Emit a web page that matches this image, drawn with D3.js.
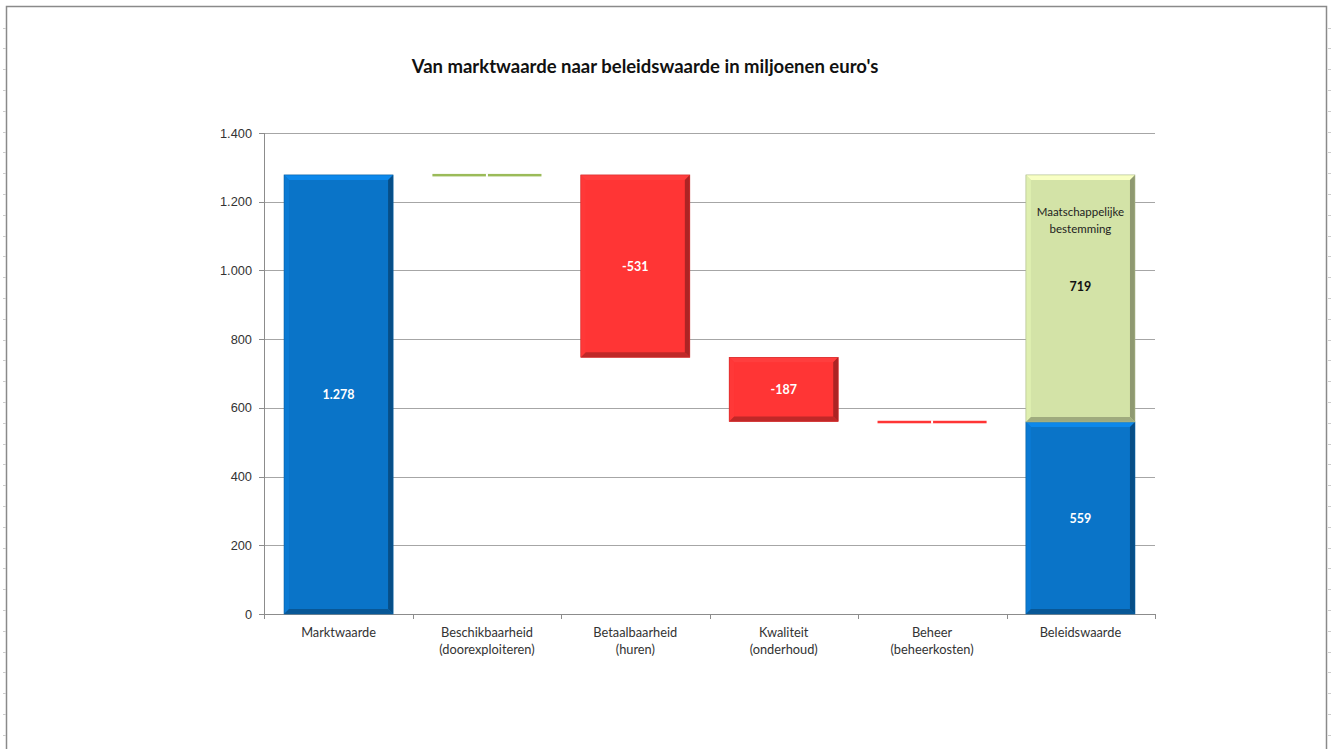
<!DOCTYPE html>
<meta charset="utf-8">
<style>
body { margin: 0; background: #fff; }
svg { display: block; font-family: Lato, "Liberation Sans", sans-serif; }
.axis text { font-size: 12.8px; fill: #333; }
.axis line, .axis path { stroke: #8c8c8c; shape-rendering: crispEdges; }
.grid line { stroke: #a6a6a6; shape-rendering: crispEdges; }
.grid path { stroke-width: 0; }
</style>
<body>
<script src="https://cdnjs.cloudflare.com/ajax/libs/d3/7.8.5/d3.min.js"></script>
<script>

// chart data
var categories = ["Marktwaarde", "Beschikbaarheid|(doorexploiteren)", "Betaalbaarheid|(huren)",
                  "Kwaliteit|(onderhoud)", "Beheer|(beheerkosten)", "Beleidswaarde"];
var startValue = 1278;              // marktwaarde
var steps = [0, -531, -187, -1];    // the four corrections
var endParts = [559, 719];          // beleidswaarde: financieel + maatschappelijk
var endPartNames = ["", "Maatschappelijke|bestemming"];
var yTicks = [0, 200, 400, 600, 800, 1000, 1200, 1400];

var nl = d3.formatLocale({decimal: ",", thousands: ".", grouping: [3], currency: ["€ ", ""], minus: "-"});
var fmt = nl.format(",.0f");

var W = 1332, H = 749;
var plot = {left: 264, right: 1155, top: 133, bottom: 614};

var svg = d3.select("body").append("svg")
    .attr("width", W)
    .attr("height", H);

// sheet frame and little cell ticks around it
svg.append("rect")
    .attr("x", 6.5).attr("y", 6.5)
    .attr("width", 1320).attr("height", 760)
    .attr("fill", "none")
    .attr("stroke", "#8a8a8a")
    .attr("stroke-width", 1.5);

var rowTicks = d3.range(27.5, H, 20.8);
svg.selectAll(".rowtick").data(rowTicks).enter().append("line")
    .attr("x1", 3).attr("x2", 6)
    .attr("y1", function(d) { return Math.round(d) + 0.5; })
    .attr("y2", function(d) { return Math.round(d) + 0.5; })
    .attr("stroke", "#ccc");
svg.selectAll(".rowtick2").data(rowTicks).enter().append("line")
    .attr("x1", 1328).attr("x2", 1331)
    .attr("y1", function(d) { return Math.round(d) + 0.5; })
    .attr("y2", function(d) { return Math.round(d) + 0.5; })
    .attr("stroke", "#ccc");

// scales
var x = d3.scaleBand()
    .domain(categories)
    .range([plot.left, plot.right])
    .paddingInner(0.265)
    .paddingOuter(0.135);

var y = d3.scaleLinear()
    .domain([0, 1400])
    .range([plot.bottom, plot.top]);

// gridlines
svg.append("g")
    .attr("class", "grid")
    .attr("transform", "translate(" + plot.left + ",0)")
    .call(d3.axisRight(y).tickValues(yTicks.slice(1)).tickSize(plot.right - plot.left).tickFormat(""));

// y axis
svg.append("g")
    .attr("class", "axis")
    .attr("transform", "translate(" + plot.left + ",0)")
    .call(d3.axisLeft(y).tickValues(yTicks).tickSize(5).tickPadding(7).tickFormat(fmt))
    .call(function(g) { g.select(".domain").attr("d", "M0.5," + plot.top + "V" + plot.bottom); });

// x axis with ticks between categories
var xAxis = svg.append("g")
    .attr("class", "axis")
    .attr("transform", "translate(0," + plot.bottom + ")");
xAxis.append("line")
    .attr("x1", plot.left).attr("x2", plot.right)
    .attr("y1", 0.5).attr("y2", 0.5);
var bounds = d3.range(categories.length + 1).map(function(i) {
    return plot.left + i * (plot.right - plot.left) / categories.length;
});
xAxis.selectAll(".xt").data(bounds).enter().append("line")
    .attr("x1", function(d) { return Math.round(d) + 0.5; })
    .attr("x2", function(d) { return Math.round(d) + 0.5; })
    .attr("y1", 0).attr("y2", 5);
xAxis.selectAll(".xl").data(categories).enter().append("text")
    .attr("text-anchor", "middle")
    .attr("transform", function(d) { return "translate(" + (x(d) + x.bandwidth() / 2) + ",23)"; })
    .each(function(d) {
        var t = d3.select(this);
        d.split("|").forEach(function(s, i) {
            t.append("tspan").attr("x", 0).attr("dy", i ? 17 : 0).text(s);
        });
    });

// build waterfall segments
var segs = [];
segs.push({cat: categories[0], from: 0, to: startValue, color: "#0a74c8", label: fmt(startValue), txt: "#fff"});
var run = startValue;
steps.forEach(function(v, i) {
    var s = {cat: categories[i + 1], from: run, to: run + v,
             color: v >= 0 ? "#9bbb59" : "#ff3535", txt: "#fff",
             label: Math.abs(v) >= 50 ? fmt(v) : ""};
    segs.push(s);
    run += v;
});
var acc = 0;
endParts.forEach(function(v, i) {
    segs.push({cat: categories[5], from: acc, to: acc + v,
               color: i === 0 ? "#0a74c8" : "#d3e3a7",
               txt: i === 0 ? "#fff" : "#111",
               label: fmt(v), name: endPartNames[i]});
    acc += v;
});

function shade(c, k) { return k > 0 ? d3.color(c).brighter(k) : d3.color(c).darker(-k); }

var bars = svg.append("g");
segs.forEach(function(s) {
    var x0 = x(s.cat), w = x.bandwidth();
    var y0 = y(Math.max(s.from, s.to)), y1 = y(Math.min(s.from, s.to));
    var h = y1 - y0;
    var g = bars.append("g");
    if (h < 3) {
        // almost zero step: a thin line
        var ym = (y0 + y1) / 2;
        g.append("rect").attr("x", x0).attr("y", ym - 1).attr("width", w).attr("height", 2.5)
            .attr("fill", s.color);
        g.append("rect").attr("x", x0 + w / 2 - 1).attr("y", ym - 1.5).attr("width", 2).attr("height", 3.5)
            .attr("fill", "#fff");
        return;
    }
    var b = Math.min(5, h / 2);
    g.append("rect").attr("x", x0).attr("y", y0).attr("width", w).attr("height", h)
        .attr("fill", s.color);
    var x1 = x0 + w;
    // bevel faces
    g.append("path").attr("fill", shade(s.color, 0.45))
        .attr("d", "M" + x0 + "," + y0 + "L" + x1 + "," + y0 + "L" + (x1 - b) + "," + (y0 + b) + "L" + (x0 + b) + "," + (y0 + b) + "Z");
    g.append("path").attr("fill", shade(s.color, 0.15))
        .attr("d", "M" + x0 + "," + y0 + "L" + (x0 + b) + "," + (y0 + b) + "L" + (x0 + b) + "," + (y1 - b) + "L" + x0 + "," + y1 + "Z");
    g.append("path").attr("fill", shade(s.color, -1.1))
        .attr("d", "M" + x1 + "," + y0 + "L" + x1 + "," + y1 + "L" + (x1 - b) + "," + (y1 - b) + "L" + (x1 - b) + "," + (y0 + b) + "Z");
    g.append("path").attr("fill", shade(s.color, -0.8))
        .attr("d", "M" + x0 + "," + y1 + "L" + x1 + "," + y1 + "L" + (x1 - b) + "," + (y1 - b) + "L" + (x0 + b) + "," + (y1 - b) + "Z");
    g.append("rect").attr("x", x0).attr("y", y0).attr("width", w).attr("height", h)
        .attr("fill", "none").attr("stroke", shade(s.color, -0.6)).attr("stroke-width", 0.6);

    var cx = x0 + w / 2, cy = (y0 + y1) / 2;
    if (s.name) {
        var t = g.append("text").attr("text-anchor", "middle")
            .attr("font-size", 11.5).attr("fill", "#222")
            .attr("transform", "translate(" + cx + "," + (y0 + 41) + ")");
        s.name.split("|").forEach(function(p, i) {
            t.append("tspan").attr("x", 0).attr("dy", i ? 17 : 0).text(p);
        });
        cy -= 12;
    }
    if (s.label) {
        g.append("text").attr("x", cx).attr("y", cy + 5)
            .attr("text-anchor", "middle")
            .attr("font-size", 12.5).attr("font-weight", "bold")
            .attr("fill", s.txt).text(s.label);
    }
});

// title
svg.append("text")
    .attr("x", 645).attr("y", 73)
    .attr("text-anchor", "middle")
    .attr("font-size", 18.5).attr("font-weight", "bold").attr("fill", "#111")
    .text("Van marktwaarde naar beleidswaarde in miljoenen euro's");

</script>
</body>
